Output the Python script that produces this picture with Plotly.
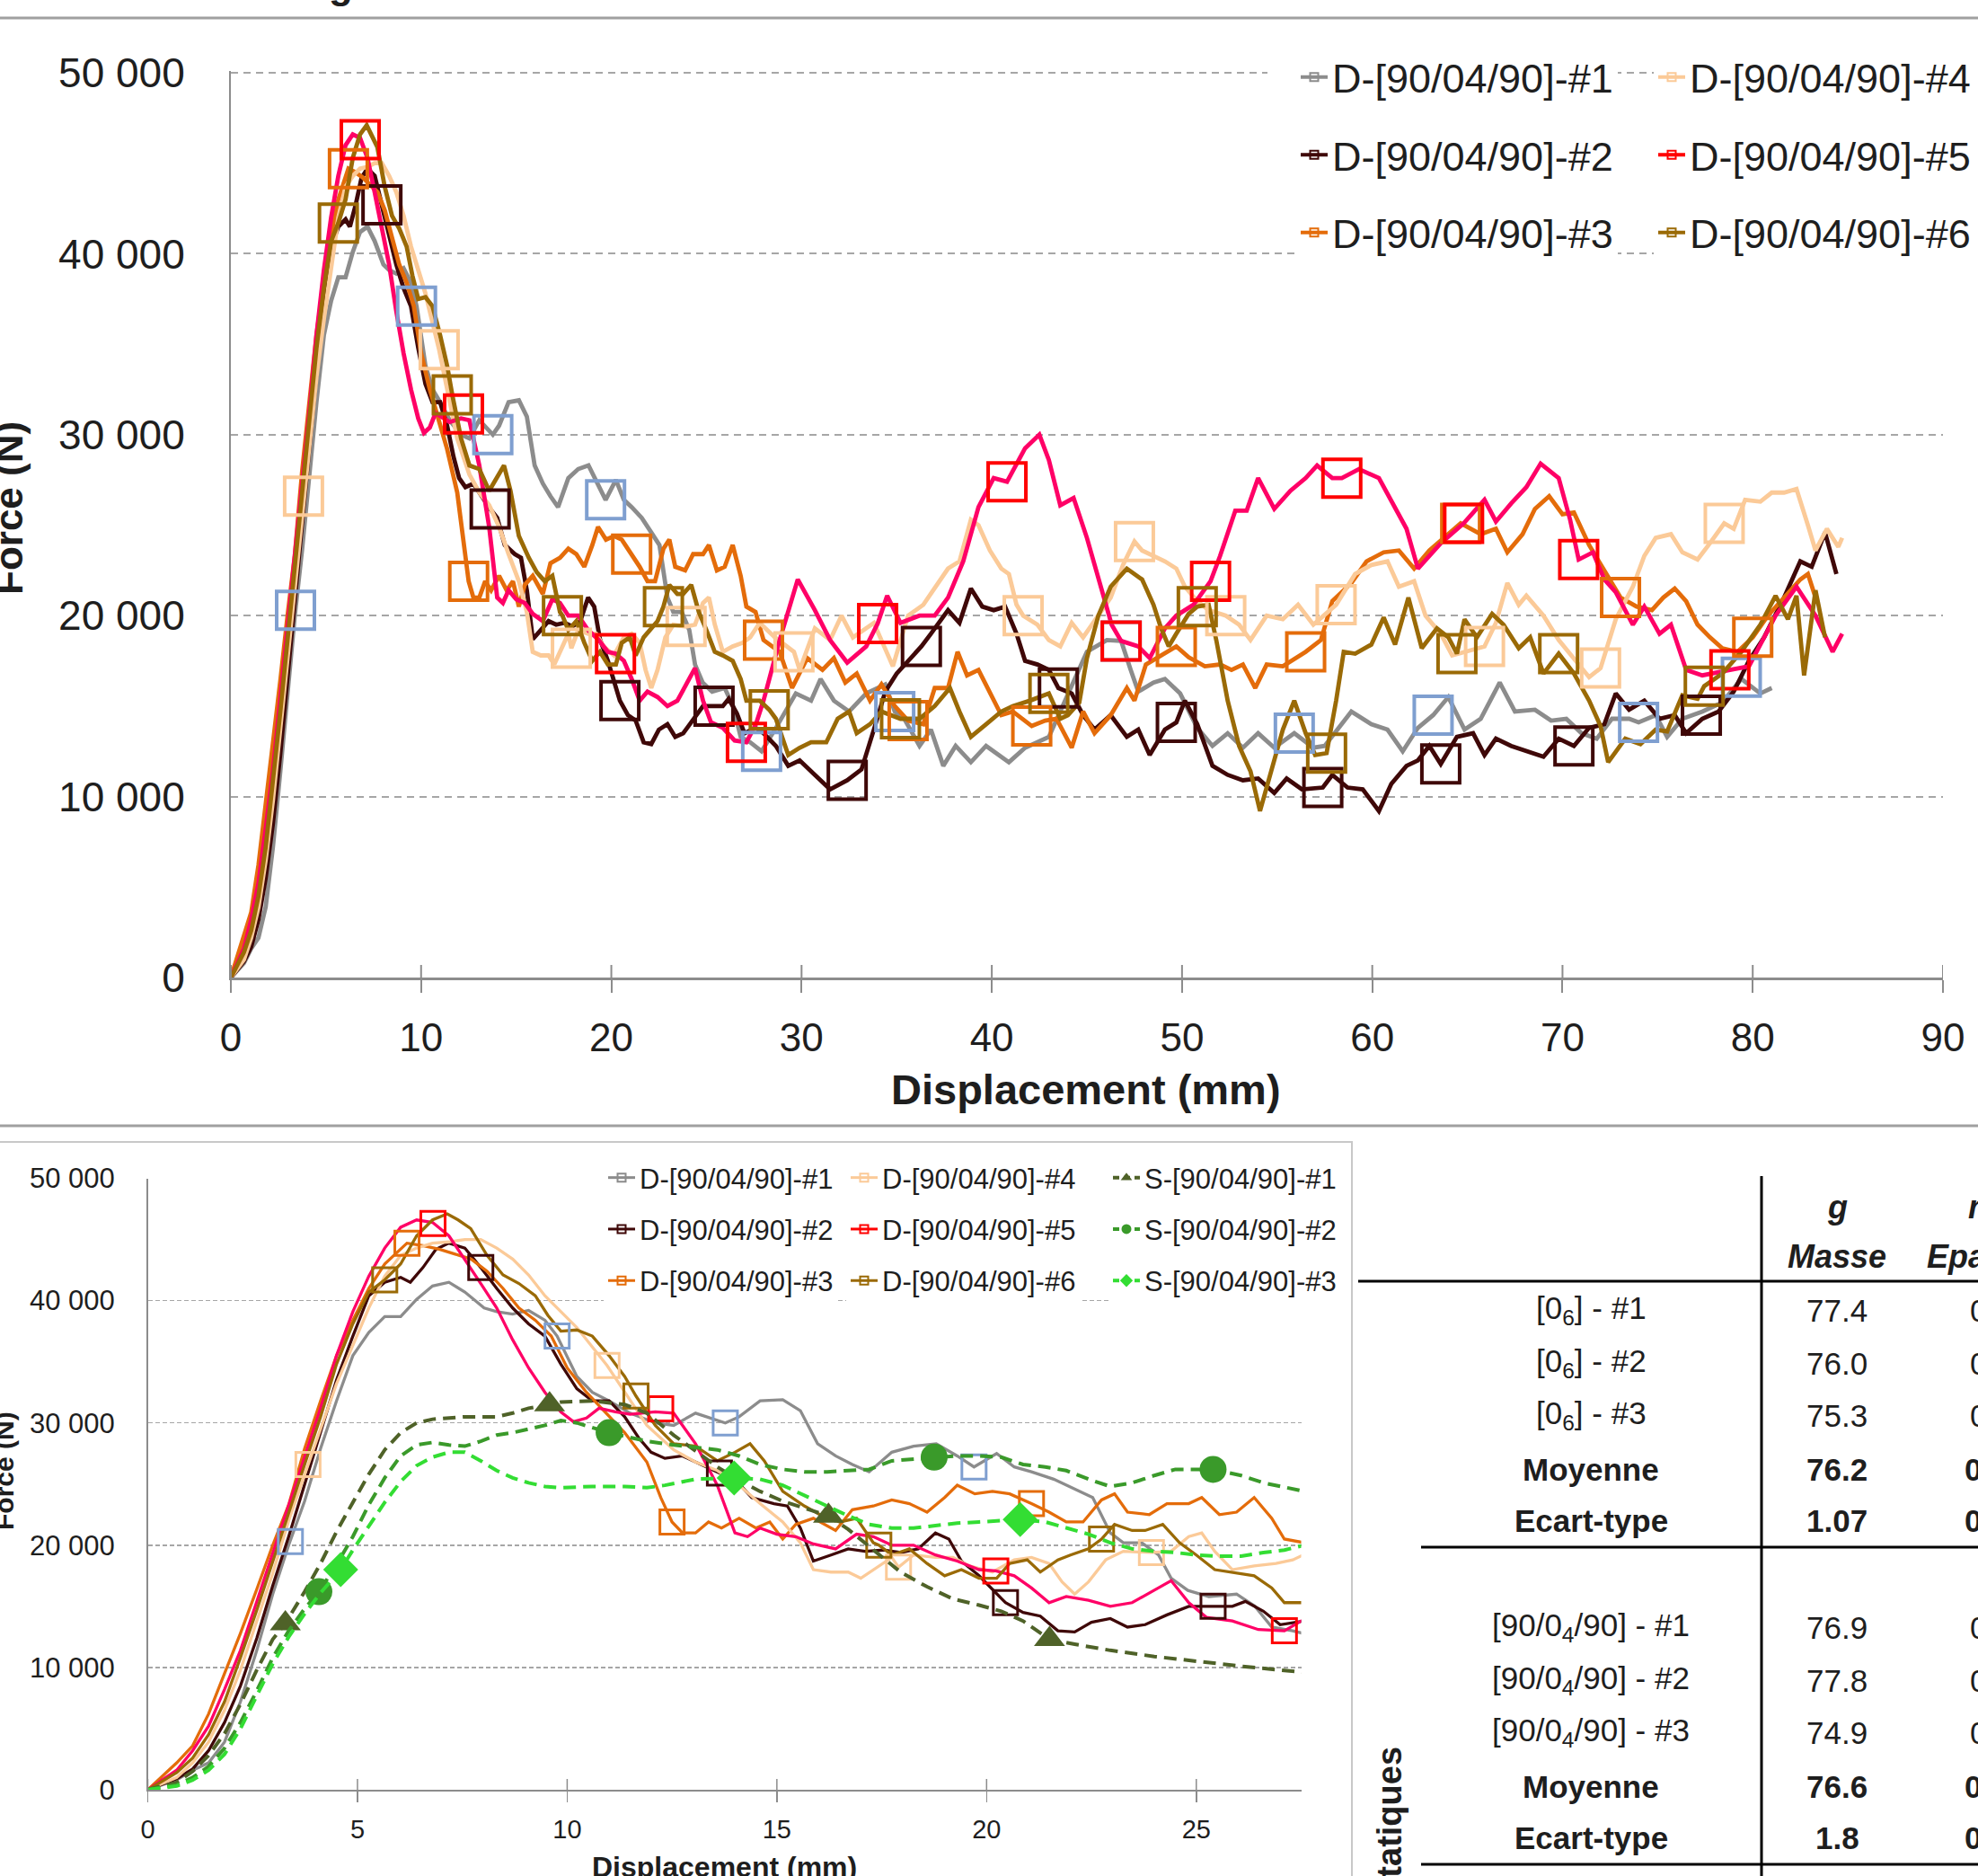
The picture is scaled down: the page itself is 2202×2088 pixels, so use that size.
import plotly.graph_objects as go

W, H = 2202, 2088

# ------------------------------------------------------------------ data
D_NAMES = ["D-[90/04/90]-#1", "D-[90/04/90]-#2", "D-[90/04/90]-#3",
           "D-[90/04/90]-#4", "D-[90/04/90]-#5", "D-[90/04/90]-#6"]
S_NAMES = ["S-[90/04/90]-#1", "S-[90/04/90]-#2", "S-[90/04/90]-#3"]

# (displacement mm, force N)
D1 = [(0, 0), (0.69, 800), (1.07, 1600), (1.45, 2200), (1.83, 3900), (2.21, 7200), (2.6, 11400), (2.98, 16000),
      (3.36, 20000), (3.74, 23600), (4.12, 27900), (4.5, 31800), (4.89, 35500), (5.27, 37400), (5.65, 38700),
      (6.03, 38700), (6.41, 40100), (6.79, 41200), (7.18, 41500), (7.56, 40700), (8.02, 39400), (8.32, 39100),
      (8.7, 38900), (9.08, 39200), (9.47, 38400), (9.76, 37100), (10.23, 33800), (10.6, 32500), (11.0, 31800),
      (11.5, 30800), (12.1, 30000), (12.54, 29800), (13.06, 30800), (13.77, 30000), (14.1, 30500), (14.6, 31800),
      (15.14, 31900), (15.56, 31000), (15.97, 28300), (16.4, 27300), (16.8, 26600), (17.2, 26000), (17.74, 27600),
      (18.26, 28100), (18.8, 28300), (19.3, 27300), (19.7, 26400), (20.24, 27500), (20.66, 26400), (21.07, 26000),
      (21.6, 25400), (22.1, 24600), (22.53, 23900), (22.95, 21000), (23.26, 20200), (23.7, 20200), (24.1, 19200),
      (24.4, 17300), (24.8, 16300), (25.3, 15800), (25.96, 16000), (26.4, 15000), (26.8, 13300), (27.3, 13000),
      (27.9, 12500), (28.6, 13700), (29.7, 15700), (30.5, 15300), (31.0, 16500), (31.7, 15300), (32.5, 14700),
      (33.4, 15700), (34.4, 16200), (34.9, 14700), (35.4, 14300), (36.2, 12800), (36.8, 13700), (37.45, 11700),
      (38.1, 12800), (38.9, 11900), (39.7, 12800), (40.9, 11900), (41.75, 12700), (43.0, 13300), (44.2, 16200),
      (45.0, 18000), (46.05, 18650), (46.8, 18600), (47.3, 17000), (47.7, 15800), (48.5, 16300), (49.1, 16500),
      (49.9, 15700), (50.8, 13800), (51.6, 12800), (52.4, 13500), (53.2, 12700), (54.0, 13500), (54.85, 12700),
      (55.9, 13500), (56.9, 12700), (57.5, 12800), (58.9, 14700), (59.95, 14000), (60.8, 13700), (61.6, 12500),
      (62.4, 13800), (63.2, 14500), (64.0, 15500), (64.85, 13700), (65.7, 14300), (66.7, 16300), (67.5, 14700),
      (68.55, 14800), (69.4, 14200), (70.2, 14300), (71.0, 13500), (71.8, 13200), (72.6, 14300), (73.5, 14300),
      (74.0, 14100), (74.9, 14500), (75.5, 13300), (76.3, 14300), (77.35, 14700), (78.4, 15200), (79.4, 16500),
      (80.4, 15700), (81.0, 16000)]
D2 = [(0, 0), (0.69, 900), (1.07, 1700), (1.45, 3200), (1.83, 5500), (2.21, 8500), (2.6, 12400), (2.98, 16700),
      (3.36, 20700), (3.74, 24900), (4.12, 29200), (4.5, 33500), (4.89, 37100), (5.27, 40400), (5.65, 41500),
      (6.03, 41900), (6.26, 41500), (6.56, 42700), (6.87, 44200), (7.18, 44700), (7.56, 44300), (7.94, 42700),
      (8.32, 41000), (8.7, 39400), (9.08, 38100), (9.47, 37100), (9.85, 34800), (10.23, 32800), (10.6, 31800),
      (11.0, 31800), (11.37, 30500), (11.7, 28800), (12.0, 27600), (12.33, 27100), (12.75, 27300), (13.17, 26600),
      (13.63, 25900), (14.0, 25400), (14.4, 23900), (14.93, 23400), (15.25, 23200), (15.56, 21400), (15.87, 18700),
      (16.29, 19200), (16.7, 19700), (17.1, 19500), (17.54, 19600), (17.95, 19400), (18.37, 19700), (18.78, 21000),
      (19.1, 20500), (19.4, 18700), (19.82, 17500), (20.45, 15300), (20.87, 14500), (21.28, 14200), (21.7, 13000),
      (22.1, 12900), (22.5, 13700), (22.95, 14000), (23.36, 13300), (23.78, 13500), (24.3, 14300), (24.82, 15000),
      (25.4, 15000), (25.86, 15000), (26.17, 15400), (26.6, 14600), (27.0, 13500), (27.58, 13800), (28.0, 13500),
      (28.65, 12800), (29.3, 11700), (29.9, 12000), (30.7, 11200), (31.5, 10400), (32.4, 10900), (33.15, 11500),
      (33.8, 13700), (34.4, 15800), (35.0, 16800), (35.6, 17500), (36.3, 18300), (36.8, 19000), (37.7, 20300),
      (38.3, 19600), (38.9, 21500), (39.5, 20500), (40.1, 20300), (40.7, 20500), (41.3, 19000), (41.75, 17500),
      (42.4, 17300), (43.0, 17000), (43.5, 16000), (44.2, 15700), (44.8, 14500), (45.4, 13700), (46.25, 14500),
      (47.1, 13300), (47.7, 13700), (48.3, 12300), (49.1, 13700), (49.7, 14100), (50.15, 15300), (50.8, 14000),
      (51.6, 11700), (52.4, 11200), (53.2, 10900), (54.0, 11000), (54.85, 10200), (55.5, 11000), (56.3, 10400),
      (57.4, 10500), (57.9, 11200), (58.7, 10500), (59.5, 10400), (60.35, 9200), (61.0, 10700), (61.8, 11700),
      (62.4, 12000), (63.0, 12800), (63.6, 11800), (64.45, 13300), (65.3, 13500), (65.9, 12300), (66.5, 13200),
      (67.3, 12800), (68.1, 12500), (69.0, 12200), (69.8, 13200), (70.6, 12800), (71.4, 13800), (72.2, 14000),
      (72.8, 15700), (73.5, 14800), (74.3, 15300), (75.1, 14300), (75.9, 14500), (76.5, 13500), (77.35, 14300),
      (78.2, 14700), (79.0, 15800), (79.8, 17500), (80.6, 18800), (81.65, 21000), (82.5, 23000), (83.1, 22700),
      (83.8, 24600), (84.4, 22300)]
D3 = [(0, 0), (0.69, 2200), (1.07, 3600), (1.45, 6200), (1.83, 9500), (2.21, 12800), (2.6, 16400), (2.98, 20000),
      (3.36, 23300), (3.74, 27900), (4.12, 31800), (4.5, 35500), (4.89, 38400), (5.27, 41000), (5.65, 43000),
      (6.18, 44700), (6.56, 44500), (6.95, 44200), (7.33, 43800), (7.71, 43400), (8.09, 42400), (8.47, 41000),
      (8.85, 39400), (9.24, 38400), (9.62, 37100), (10.0, 34500), (10.46, 32500), (10.9, 30900), (11.37, 29200),
      (11.9, 26800), (12.23, 23900), (12.5, 21900), (12.75, 21000), (13.06, 21000), (13.37, 21900), (13.68, 21400),
      (14.1, 22200), (14.5, 21400), (14.83, 21900), (15.14, 20500), (15.45, 21700), (15.87, 22200), (16.4, 21200),
      (16.8, 22900), (17.3, 23200), (17.74, 23700), (18.16, 23400), (18.58, 22700), (19.0, 23900), (19.3, 24900),
      (19.72, 24200), (20.14, 24400), (20.55, 24200), (21.07, 23400), (21.49, 22700), (21.9, 21900), (22.3, 21900),
      (22.74, 23700), (23.05, 24200), (23.36, 22700), (23.88, 22500), (24.3, 23400), (24.82, 23400), (25.13, 23900),
      (25.55, 22500), (25.96, 22700), (26.38, 23900), (26.8, 22200), (27.1, 20500), (27.58, 20200), (28.0, 18650),
      (28.85, 18000), (29.5, 16000), (30.3, 17650), (31.1, 17000), (31.7, 17650), (32.3, 16300), (32.9, 16800),
      (33.6, 15300), (34.2, 16200), (34.9, 15000), (35.6, 14200), (36.4, 14000), (37.0, 16000), (37.7, 16000),
      (38.2, 18000), (38.7, 16700), (39.3, 17000), (39.9, 15800), (40.5, 14500), (41.1, 14700), (42.1, 13900),
      (42.8, 14200), (43.4, 14300), (44.2, 12700), (44.8, 14700), (45.4, 13500), (46.25, 14500), (47.1, 16000),
      (47.5, 15300), (48.1, 17300), (48.7, 17700), (49.7, 18300), (50.35, 17700), (51.2, 17200), (52.0, 17300),
      (52.6, 17000), (53.2, 17300), (53.85, 16000), (54.45, 17300), (55.3, 17200), (56.5, 18000), (57.3, 18650),
      (57.9, 20800), (58.9, 21800), (59.7, 23000), (60.6, 23500), (61.4, 23600), (62.2, 22600), (63.0, 23600),
      (64.65, 25100), (65.7, 24500), (66.5, 24800), (67.1, 23500), (67.9, 24500), (68.55, 25900), (69.3, 26600),
      (70.0, 25600), (70.6, 25700), (71.4, 23900), (72.2, 22500), (73.05, 21000), (73.9, 20500), (74.7, 20300),
      (75.3, 21000), (75.9, 21500), (76.5, 20800), (77.1, 19500), (77.75, 18800), (78.4, 18200), (79.2, 18000),
      (80.0, 18800), (80.8, 20000), (81.65, 21000), (82.5, 22000), (82.9, 22300), (83.3, 21000)]
D4 = [(0, 0), (0.69, 1000), (1.07, 2200), (1.45, 3900), (1.83, 6500), (2.21, 9800), (2.6, 13800), (2.98, 17700),
      (3.36, 22000), (3.82, 26600), (4.12, 29500), (4.5, 33200), (4.89, 36400), (5.27, 39400), (5.65, 42000),
      (6.03, 43700), (6.41, 44300), (6.79, 44700), (7.18, 44800), (7.56, 45000), (7.94, 45000), (8.32, 44300),
      (8.7, 43400), (9.08, 42100), (9.47, 40400), (9.85, 39100), (10.23, 37800), (10.95, 34700), (11.37, 32500),
      (11.9, 29800), (12.54, 27800), (13.06, 26800), (13.58, 26100), (14.1, 24900), (14.6, 23400), (15.14, 21900),
      (15.56, 20200), (15.87, 18000), (16.29, 17800), (16.7, 17800), (17.0, 17300), (17.3, 18000), (17.74, 19000),
      (17.9, 18200), (18.26, 19200), (18.78, 19000), (19.2, 19000), (19.6, 18300), (20.14, 17800), (20.66, 18800),
      (21.07, 19000), (21.49, 18500), (21.8, 17000), (22.1, 16000), (22.43, 17000), (22.84, 18800), (23.26, 19500),
      (23.93, 19400), (24.4, 19500), (24.82, 20700), (25.13, 21000), (25.44, 19500), (25.86, 18000), (26.38, 18300),
      (26.9, 18500), (27.3, 18800), (27.8, 19600), (28.6, 18800), (29.6, 18000), (29.9, 17000), (30.7, 19300),
      (31.5, 18650), (32.1, 20000), (32.7, 18800), (33.8, 19600), (34.8, 17200), (35.6, 20000), (36.4, 20600),
      (37.0, 21500), (37.7, 22600), (38.3, 23000), (38.9, 25300), (39.3, 25000), (39.9, 23600), (40.5, 22600),
      (40.9, 22300), (41.3, 20600), (41.65, 20000), (42.4, 19500), (43.0, 18650), (43.6, 18300), (44.2, 19600),
      (44.8, 18800), (45.6, 20000), (46.25, 21000), (46.9, 22800), (47.5, 24100), (47.9, 23600), (48.5, 23300),
      (49.1, 23000), (49.7, 22600), (50.15, 21600), (50.8, 20800), (51.4, 20300), (52.3, 20000), (53.0, 19500),
      (53.6, 18650), (54.45, 20000), (55.3, 19800), (56.1, 20600), (56.9, 19500), (58.1, 20600), (59.1, 22300),
      (59.95, 22800), (60.8, 23000), (61.4, 21600), (62.2, 21900), (62.8, 20000), (63.6, 19000), (64.2, 17800),
      (65.9, 18300), (66.5, 19600), (67.1, 21800), (67.7, 20600), (68.1, 21100), (69.0, 20000), (69.8, 18650),
      (70.6, 17650), (71.4, 16600), (72.0, 17100), (72.8, 19800), (73.7, 21600), (74.3, 23300), (74.9, 24300),
      (75.7, 24500), (76.3, 23500), (77.1, 23100), (77.75, 24000), (78.5, 25100), (79.0, 24800), (79.6, 26400),
      (80.4, 26300), (81.0, 26800), (81.65, 26800), (82.3, 27000), (82.9, 25000), (83.3, 23600), (83.9, 24800),
      (84.5, 23800), (84.7, 24300)]
D5 = [(0, 0), (0.69, 1600), (1.07, 3200), (1.45, 5200), (1.83, 8200), (2.21, 11400), (2.6, 15400), (2.98, 19300),
      (3.36, 23300), (3.74, 27200), (4.12, 31200), (4.5, 35500), (4.89, 39100), (5.27, 42000), (5.65, 44300),
      (6.03, 46000), (6.41, 46600), (6.79, 46400), (7.18, 45300), (7.56, 43400), (7.94, 41400), (8.32, 39400),
      (8.7, 36800), (9.08, 34500), (9.47, 32500), (9.85, 30900), (10.15, 30100), (10.46, 30400), (10.76, 31200),
      (11.15, 30900), (11.5, 30700), (12.1, 30900), (12.54, 30800), (13.06, 28300), (13.58, 24900), (14.0, 21000),
      (14.3, 20700), (14.6, 21400), (15.0, 20900), (15.45, 20700), (15.87, 20100), (16.4, 19700), (16.9, 20900),
      (17.3, 20700), (17.74, 20000), (18.26, 20000), (18.78, 19200), (19.3, 18700), (19.82, 18000), (20.22, 17900),
      (20.66, 17500), (21.07, 16500), (21.49, 15300), (21.9, 15800), (22.43, 15500), (22.95, 15000), (23.47, 15300),
      (23.99, 16300), (24.4, 17100), (24.82, 15300), (25.24, 14100), (25.86, 13800), (26.48, 13100), (27.1, 13000),
      (27.6, 14000), (28.0, 15300), (28.85, 18650), (29.8, 22000), (30.7, 20300), (31.5, 18650), (32.4, 17400),
      (33.4, 18300), (34.0, 19560), (34.5, 21100), (35.2, 19600), (36.2, 20000), (37.0, 20000), (37.7, 21000),
      (38.5, 23000), (39.3, 26000), (40.1, 27600), (40.8, 27400), (41.75, 29250), (42.5, 30000), (43.0, 28600),
      (43.6, 26100), (44.3, 26500), (45.0, 24300), (45.6, 22000), (46.3, 19500), (46.8, 18600), (47.7, 18300),
      (48.3, 17650), (49.1, 19300), (49.7, 20000), (50.6, 20600), (51.5, 21900), (52.0, 23300), (52.8, 25800),
      (53.4, 25800), (54.0, 27600), (54.85, 25900), (55.7, 26900), (56.5, 27600), (57.1, 28300), (57.9, 27600),
      (58.4, 27600), (59.3, 28100), (60.35, 27600), (61.2, 25900), (61.8, 24800), (62.4, 22600), (63.0, 23300),
      (63.6, 24000), (64.8, 25100), (65.9, 26400), (66.5, 25200), (67.3, 26200), (68.1, 27100), (68.85, 28400),
      (69.8, 27600), (70.4, 25300), (70.85, 23100), (71.6, 23500), (72.2, 22000), (72.8, 21300), (73.7, 19500),
      (74.3, 20500), (75.1, 19000), (75.7, 19500), (76.5, 17000), (77.35, 16700), (78.8, 17000), (79.8, 17200),
      (81.2, 20000), (82.3, 21600), (83.3, 20000), (84.2, 18000), (84.7, 19000)]
D6 = [(0, 0), (0.69, 1400), (1.07, 2600), (1.45, 4500), (1.83, 7200), (2.21, 10800), (2.6, 14700), (2.98, 18700),
      (3.36, 22600), (3.74, 26600), (4.12, 30500), (4.5, 34800), (4.89, 38100), (5.27, 40700), (5.65, 41700),
      (6.03, 43000), (6.41, 45300), (6.79, 46600), (7.14, 47100), (7.4, 46600), (7.7, 45900), (8.09, 43700),
      (8.47, 42100), (8.85, 41400), (9.24, 40400), (9.54, 38800), (9.85, 37500), (10.23, 37600), (10.6, 37100),
      (11.0, 35500), (11.37, 33800), (11.64, 32200), (12.1, 29800), (12.54, 28300), (13.06, 28100), (13.58, 26900),
      (14.0, 27600), (14.36, 28300), (14.7, 26900), (15.14, 24400), (15.66, 23200), (16.08, 22400), (16.5, 21900),
      (16.9, 22200), (17.3, 20200), (17.43, 20000), (17.74, 19200), (18.16, 19700), (18.58, 18500), (19.0, 17500),
      (19.4, 18000), (19.82, 17300), (20.24, 17300), (20.55, 18500), (20.97, 18800), (21.28, 17800), (21.7, 18800),
      (22.0, 19200), (22.43, 19700), (22.74, 20500), (23.05, 21700), (23.47, 21200), (23.78, 21200), (24.2, 21700),
      (24.6, 20200), (25.0, 19200), (25.44, 18000), (25.86, 17800), (26.38, 17500), (26.8, 16500), (27.1, 15300),
      (27.8, 15300), (28.3, 14800), (28.65, 14300), (29.3, 12300), (29.9, 12700), (30.5, 13000), (31.3, 13000),
      (31.9, 14300), (32.5, 14700), (32.9, 13500), (33.6, 14000), (34.2, 14700), (35.2, 14300), (36.2, 14300),
      (37.0, 15000), (37.8, 16000), (38.3, 14700), (38.9, 13300), (39.7, 14000), (40.5, 14700), (41.1, 15000),
      (42.0, 15300), (43.0, 15700), (43.6, 14300), (44.0, 14500), (44.6, 15200), (45.0, 17650), (45.6, 20000),
      (46.25, 21600), (47.1, 22600), (47.9, 22000), (48.5, 20600), (48.9, 19300), (49.3, 18300), (49.7, 19000),
      (50.35, 20100), (50.8, 20500), (51.4, 20600), (51.8, 18650), (52.4, 15300), (53.0, 12800), (53.6, 11400),
      (54.1, 9200), (54.65, 11200), (55.3, 13700), (55.9, 15300), (56.5, 13500), (57.0, 12300), (57.6, 12400),
      (58.1, 15300), (58.5, 18000), (59.1, 17900), (59.95, 18400), (60.6, 19900), (61.2, 18400), (61.9, 21000),
      (62.6, 18200), (63.4, 19300), (64.0, 18800), (64.45, 17900), (64.85, 19800), (65.5, 18800), (66.3, 20100),
      (66.9, 19500), (67.7, 18200), (68.3, 18800), (69.0, 16800), (69.8, 17900), (70.6, 16800), (71.4, 15300),
      (72.0, 13900), (72.4, 11900), (73.3, 13200), (74.1, 12900), (74.9, 13700), (75.5, 13600), (76.3, 15600),
      (77.1, 15400), (77.45, 16100), (78.4, 16800), (79.4, 18000), (80.4, 19500), (81.2, 21100), (81.85, 19800),
      (82.3, 21100), (82.7, 16700), (83.3, 21400), (83.8, 18800)]

# marker positions (every n-th point shown by the spreadsheet)
D1_MX = [3.4, 9.76, 13.77, 19.7, 27.9, 34.9, 46.8, 55.9, 63.2, 74.0, 79.4]
D1_MY = [20300, 37100, 30000, 26400, 12500, 14700, 18600, 13500, 14500, 14100, 16600]
D2_MX = [7.94, 13.63, 20.45, 25.4, 32.4, 36.3, 43.5, 49.7, 57.4, 63.6, 70.6, 77.3]
D2_MY = [42700, 25900, 15300, 15000, 10900, 18300, 16000, 14100, 10500, 11800, 12800, 14500]
D3_MX = [6.18, 12.5, 21.07, 28.0, 35.6, 42.1, 49.7, 56.5, 64.65, 73.05, 80.0]
D3_MY = [44700, 21900, 23400, 18650, 14200, 13900, 18300, 18000, 25100, 21000, 18800]
D4_MX = [3.82, 10.95, 17.9, 23.93, 29.6, 41.65, 47.5, 52.3, 58.1, 65.9, 72.0, 78.5]
D4_MY = [26600, 34700, 18200, 19400, 18000, 20000, 24100, 20000, 20600, 18300, 17100, 25100]
D5_MX = [6.8, 12.23, 20.22, 27.1, 34.0, 40.8, 46.8, 51.5, 58.4, 64.8, 70.85, 78.8]
D5_MY = [46300, 31150, 17900, 13000, 19560, 27400, 18600, 21900, 27600, 25100, 23100, 17000]
D6_MX = [5.65, 11.64, 17.43, 22.74, 28.3, 35.2, 43.0, 50.8, 57.6, 64.45, 69.8, 77.45]
D6_MY = [41700, 32200, 20000, 20500, 14800, 14300, 15700, 20500, 12400, 17900, 17900, 16100]

S1 = [(0, 0), (0.69, 600), (1.07, 1500), (1.45, 2800), (1.83, 4600), (2.21, 7000), (2.6, 9800), (2.98, 12300),
      (3.28, 13600), (3.74, 16200), (4.12, 18500), (4.5, 21100), (4.89, 23500), (5.27, 25800), (5.65, 27800),
      (6.03, 29200), (6.41, 30000), (6.79, 30300), (7.56, 30500), (8.32, 30500), (8.7, 30800), (9.08, 31200),
      (9.58, 31500), (9.85, 31700), (10.6, 31800), (11.37, 31500), (11.9, 30800), (12.54, 29000), (13.06, 27700),
      (13.58, 26400), (14.1, 25300), (14.6, 24400), (15.14, 23600), (15.66, 23000), (16.23, 22400), (16.7, 21300),
      (17.3, 19600), (17.95, 17800), (18.58, 16600), (19.2, 15600), (19.82, 15100), (20.35, 14600), (20.87, 13800),
      (21.5, 12300), (22.1, 11900), (22.95, 11400), (24.0, 10900), (25.0, 10500), (26.07, 10100), (27.58, 9600)]
S2 = [(0, 0), (0.69, 400), (1.07, 1000), (1.45, 1900), (1.83, 3400), (2.21, 5500), (2.6, 8100), (2.98, 10800),
      (3.36, 13000), (3.74, 14800), (4.08, 16200), (4.5, 18400), (4.89, 20700), (5.27, 23300), (5.65, 25500),
      (6.03, 27300), (6.41, 28200), (6.79, 28400), (7.18, 28200), (7.56, 28100), (7.94, 28500), (8.32, 29000),
      (8.7, 29200), (9.08, 29500), (9.47, 29800), (9.85, 30200), (10.23, 30000), (11.0, 29200), (11.37, 28900),
      (11.9, 28500), (12.54, 28200), (13.58, 27800), (14.1, 27300), (14.6, 26600), (15.14, 26200), (15.66, 26000),
      (16.2, 26000), (16.7, 26100), (17.2, 26200), (17.74, 26900), (18.75, 27200), (19.3, 27300), (19.82, 27300),
      (20.35, 27200), (20.87, 26600), (21.4, 26400), (21.9, 26100), (22.43, 25400), (22.95, 24800), (23.47, 25100),
      (24.0, 25700), (24.5, 26200), (25.4, 26200), (26.07, 25700), (26.6, 25100), (27.58, 24400)]
S3 = [(0, 0), (0.69, 300), (1.07, 800), (1.45, 1600), (1.83, 2900), (2.21, 5000), (2.6, 7700), (2.98, 10300),
      (3.36, 12500), (3.74, 14400), (4.12, 16100), (4.6, 18000), (4.89, 19600), (5.27, 21600), (5.65, 23500),
      (6.03, 25200), (6.41, 26500), (6.79, 27200), (7.18, 27600), (7.56, 27600), (7.94, 26900), (8.32, 26100),
      (8.7, 25500), (9.08, 25100), (9.47, 24800), (9.85, 24700), (10.6, 24800), (11.37, 24800), (11.9, 24700),
      (12.33, 24900), (13.06, 25400), (13.98, 25500), (14.6, 25400), (15.14, 24900), (15.66, 24100), (16.2, 23200),
      (16.7, 22400), (17.2, 21700), (17.74, 21400), (18.26, 21400), (18.78, 21600), (19.3, 21800), (19.82, 21900),
      (20.8, 22100), (21.4, 21900), (21.9, 21400), (22.43, 20900), (22.95, 20200), (23.47, 19700), (24.0, 19500),
      (24.5, 19400), (25.0, 19200), (25.55, 19100), (26.07, 19100), (26.6, 19400), (27.1, 19600), (27.58, 20000)]
S1_MX = [3.28, 9.58, 16.23, 21.5]
S1_MY = [13600, 31500, 22400, 12300]
S2_MX = [4.08, 11.0, 18.75, 25.4]
S2_MY = [16200, 29200, 27200, 26200]
S3_MX = [4.6, 13.98, 20.8]
S3_MY = [18000, 25500, 22100]

TOP_X_TICKS = [0, 10, 20, 30, 40, 50, 60, 70, 80, 90]
BOT_X_TICKS = [0, 5, 10, 15, 20, 25]
Y_TICKS = [0, 10000, 20000, 30000, 40000, 50000]
Y_TICK_TEXT = ["0", "10 000", "20 000", "30 000", "40 000", "50 000"]

TABLE_LABELS = ["[0<sub>6</sub>] - #1", "[0<sub>6</sub>] - #2", "[0<sub>6</sub>] - #3", "Moyenne", "Ecart-type",
                "[90/0<sub>4</sub>/90] - #1", "[90/0<sub>4</sub>/90] - #2", "[90/0<sub>4</sub>/90] - #3",
                "Moyenne", "Ecart-type"]
TABLE_MASSE = ["77.4", "76.0", "75.3", "76.2", "1.07", "76.9", "77.8", "74.9", "76.6", "1.8"]
TABLE_BOLD = [False, False, False, True, True, False, False, False, True, True]
TABLE_ROW_Y = [1458, 1517, 1575, 1635, 1692, 1811, 1870, 1928, 1988, 2045]

# ------------------------------------------------------------------ styles
SANS = "Liberation Sans, Arial, sans-serif"
TXT = "#1e1e1e"
D_LINE = ["#8c8c8c", "#3f0808", "#e46c0a", "#fbca98", "#ff0066", "#9a6a06"]
D_MARK = ["#7f9fd0", "#3f0808", "#e46c0a", "#fbca98", "#ff0000", "#9a6a06"]
D_LEG = ["#8c8c8c", "#3f0808", "#e46c0a", "#fbca98", "#ff0000", "#9a6a06"]
S_COL = ["#4f6228", "#3a9a2a", "#33dd33"]
S_SYM = ["triangle-up", "circle", "diamond"]


def px(x):
    return x / W


def py(y):
    return 1 - y / H


D_DATA = [D1, D2, D3, D4, D5, D6]
D_MARKS = [(D1_MX, D1_MY), (D2_MX, D2_MY), (D3_MX, D3_MY), (D4_MX, D4_MY), (D5_MX, D5_MY), (D6_MX, D6_MY)]
S_DATA = [S1, S2, S3]
S_MARKS = [(S1_MX, S1_MY), (S2_MX, S2_MY), (S3_MX, S3_MY)]

fig = go.Figure()

# D series in both charts
for xa, ya, lw, ms, mlw in [("x", "y", 4.8, 42, 4), ("x2", "y2", 3.3, 27, 3)]:
    for i, data in enumerate(D_DATA):
        fig.add_trace(go.Scatter(x=[p[0] for p in data], y=[p[1] for p in data], mode="lines",
                                 line=dict(color=D_LINE[i], width=lw), xaxis=xa, yaxis=ya,
                                 showlegend=False, hoverinfo="skip"))
    for i, (mx, my) in enumerate(D_MARKS):
        fig.add_trace(go.Scatter(x=mx, y=my, mode="markers", xaxis=xa, yaxis=ya, showlegend=False,
                                 marker=dict(symbol="square-open", size=ms, color=D_MARK[i],
                                             line=dict(width=mlw, color=D_MARK[i])), hoverinfo="skip"))

# S series (bottom chart only)
for i, data in enumerate(S_DATA):
    fig.add_trace(go.Scatter(x=[p[0] for p in data], y=[p[1] for p in data], mode="lines",
                             line=dict(color=S_COL[i], width=4, dash="14px,8px"), xaxis="x2", yaxis="y2",
                             showlegend=False, hoverinfo="skip"))
    mx, my = S_MARKS[i]
    fig.add_trace(go.Scatter(x=mx, y=my, mode="markers", xaxis="x2", yaxis="y2", showlegend=False,
                             marker=dict(symbol=S_SYM[i], size=30, color=S_COL[i]), hoverinfo="skip"))

# legend entries
for i, name in enumerate(D_NAMES):
    for leg, lw in [("legend" if i < 3 else "legend2", 4), ("legend3" if i < 3 else "legend4", 3)]:
        fig.add_trace(go.Scatter(x=[None], y=[None], mode="lines+markers", name=name, legend=leg,
                                 legendgroup=leg + str(i), xaxis="x", yaxis="y",
                                 line=dict(color=D_LEG[i], width=lw),
                                 marker=dict(symbol="square-open", size=9, color=D_LEG[i],
                                             line=dict(width=2, color=D_LEG[i]))))
for i, name in enumerate(S_NAMES):
    fig.add_trace(go.Scatter(x=[None], y=[None], mode="lines+markers", name=name, legend="legend5",
                             legendgroup="s" + str(i), xaxis="x", yaxis="y",
                             line=dict(color=S_COL[i], width=4, dash="7px,5px"),
                             marker=dict(symbol=S_SYM[i], size=11, color=S_COL[i])))

# ------------------------------------------------------------------ axes
TOP_L, TOP_R, TOP_T, TOP_B = 257, 2163, 79, 1088
BOT_L, BOT_R, BOT_T, BOT_B = 164.5, 1448.5, 1311.5, 1992

axis_line = "#8c8c8c"
grid = "#a6a6a6"
fig.update_layout(
    xaxis=dict(domain=[px(TOP_L), px(TOP_R)], range=[0, 90], anchor="y", tickvals=TOP_X_TICKS,
               showgrid=False, zeroline=False, showline=True, linecolor=axis_line, linewidth=3,
               ticks="outside", ticklen=14, tickwidth=2, tickcolor=axis_line,
               tickfont=dict(family=SANS, size=44, color=TXT), ticklabelstandoff=12, fixedrange=True),
    yaxis=dict(domain=[py(TOP_B), py(TOP_T)], range=[0, 50100], anchor="x", tickvals=Y_TICKS,
               ticktext=Y_TICK_TEXT, showgrid=True, gridcolor=grid, gridwidth=2, griddash="8px,6px",
               zeroline=False, showline=True, linecolor=axis_line, linewidth=2, ticks="",
               tickfont=dict(family=SANS, size=46, color=TXT), ticklabelstandoff=40, fixedrange=True),
    xaxis2=dict(domain=[px(BOT_L), px(BOT_R)], range=[0, 27.5], anchor="y2", tickvals=BOT_X_TICKS,
                showgrid=False, zeroline=False, showline=True, linecolor=axis_line, linewidth=2,
                ticks="outside", ticklen=12, tickwidth=1.5, tickcolor=axis_line,
                tickfont=dict(family=SANS, size=29, color=TXT), ticklabelstandoff=5, fixedrange=True),
    yaxis2=dict(domain=[py(BOT_B), py(BOT_T)], range=[0, 50000], anchor="x2", tickvals=Y_TICKS,
                ticktext=Y_TICK_TEXT, showgrid=True, gridcolor=grid, gridwidth=1.5, griddash="5px,3px",
                zeroline=False, showline=True, linecolor=axis_line, linewidth=1.5, ticks="",
                tickfont=dict(family=SANS, size=31, color=TXT), ticklabelstandoff=29, fixedrange=True),
)


# ------------------------------------------------------------------ legends
def leg(x, ytop, size, gap):
    return dict(x=px(x), y=py(ytop), xanchor="left", yanchor="top", orientation="v", bgcolor="white",
                borderwidth=0, font=dict(family=SANS, size=size, color=TXT), tracegroupgap=gap,
                itemclick=False, itemdoubleclick=False)


fig.update_layout(
    legend=leg(1443, 50, 45, 25),
    legend2=leg(1841, 50, 45, 25),
    legend3=leg(672, 1284, 31, 14),
    legend4=leg(942, 1284, 31, 14),
    legend5=leg(1234, 1284, 31, 14),
)

# ------------------------------------------------------------------ shapes
shapes = []
for t in TOP_X_TICKS:
    shapes.append(dict(type="line", xref="x", yref="y domain", x0=t, x1=t, y0=0, y1=14 / (TOP_B - TOP_T),
                       line=dict(color=axis_line, width=2)))
for t in BOT_X_TICKS:
    shapes.append(dict(type="line", xref="x2", yref="y2 domain", x0=t, x1=t, y0=0, y1=12 / (BOT_B - BOT_T),
                       line=dict(color=axis_line, width=1.5)))
# white strip continuing the legend background to the left (covers the grid like the original)
shapes.append(dict(type="rect", xref="paper", yref="paper", x0=px(1411), x1=px(1445), y0=py(275), y1=py(40),
                   fillcolor="white", line=dict(width=0), layer="above"))
# separators and frame
shapes.append(dict(type="line", xref="paper", yref="paper", x0=0, x1=1, y0=py(20), y1=py(20),
                   line=dict(color="#a0a0a0", width=3)))
shapes.append(dict(type="line", xref="paper", yref="paper", x0=0, x1=1, y0=py(1253), y1=py(1253),
                   line=dict(color="#a0a0a0", width=3)))
shapes.append(dict(type="rect", xref="paper", yref="paper", x0=px(-4), x1=px(1505), y0=py(2100), y1=py(1271),
                   line=dict(color="#c8c8c8", width=2)))
# table rules
for (x0, x1, y0, y1) in [(1512, 2205, 1426, 1426), (1582, 2205, 1722, 1722), (1582, 2205, 2075, 2075),
                         (1961, 1961, 1309, 2095)]:
    shapes.append(dict(type="line", xref="paper", yref="paper", x0=px(x0), x1=px(x1), y0=py(y0), y1=py(y1),
                       line=dict(color="black", width=3)))
fig.update_layout(shapes=shapes)

# ------------------------------------------------------------------ annotations
ann = []


def text(x, y, s, size, bold=False, italic=False, angle=0, xanchor="center"):
    t = s
    if bold:
        t = "<b>" + t + "</b>"
    if italic:
        t = "<i>" + t + "</i>"
    ann.append(dict(x=px(x), y=py(y), xref="paper", yref="paper", text=t, showarrow=False, textangle=angle,
                    xanchor=xanchor, yanchor="middle", font=dict(family=SANS, size=size, color=TXT)))


text(1209, 1212, "Displacement (mm)", 47, bold=True)
text(10, 566, "Force (N)", 44, bold=True, angle=-90)
text(806, 2078, "Displacement (mm)", 32, bold=True)
text(4, 1637, "Force (N)", 30, bold=True, angle=-90)
text(379, -18, "g", 44, bold=True)

# table
text(2045, 1343, "g", 36, bold=True, italic=True)
text(2045, 1398, "Masse", 36, bold=True, italic=True)
text(2143, 1398, "Epaisseur", 36, bold=True, italic=True, xanchor="left")
text(2189, 1343, "mm", 36, bold=True, italic=True, xanchor="left")
for lab, val, b, y in zip(TABLE_LABELS, TABLE_MASSE, TABLE_BOLD, TABLE_ROW_Y):
    text(1771, y, lab, 35, bold=b)
    text(2045, y, val, 35, bold=b)
    text(2185 if b else 2191, y, "0", 35, bold=b, xanchor="left")
text(1547, 2030, "Statiques", 38, bold=True, angle=-90)

fig.update_layout(annotations=ann)

fig.update_layout(width=W, height=H, margin=dict(l=0, r=0, t=0, b=0, autoexpand=False),
                  paper_bgcolor="white", plot_bgcolor="white", showlegend=True)

fig.write_html("out.html", config={"displayModeBar": False, "staticPlot": True},
               post_script="document.body.style.margin='0';document.body.style.padding='0';"
                           "document.body.style.overflow='hidden';")
